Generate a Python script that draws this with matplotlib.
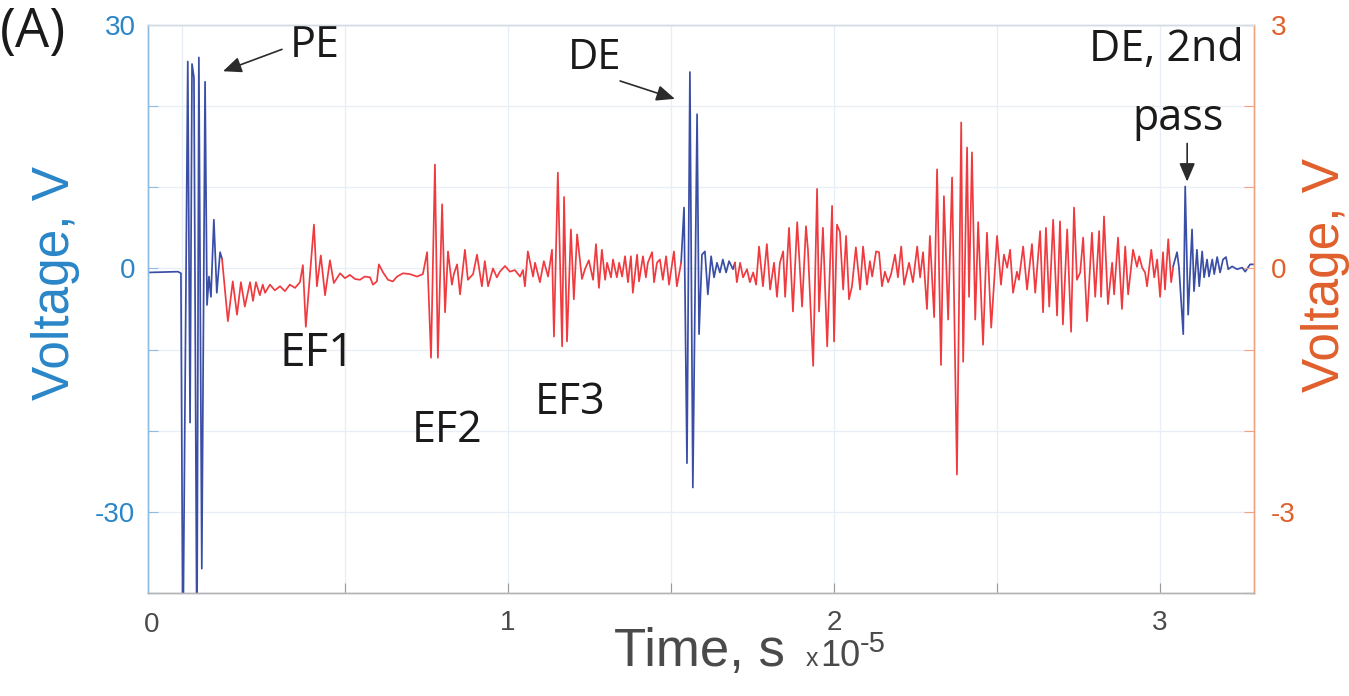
import matplotlib
matplotlib.use("Agg")
import matplotlib.pyplot as plt
import matplotlib.transforms as mtransforms
import numpy as np

W, H, DPI = 1349, 696, 100

# ---------------- data (time in units of 1e-5 s) ----------------
# Blue trace (left axis, V): primary echo PE
pe_t = [-0.104, -0.012, -0.003, 0.003, 0.018, 0.025, 0.031, 0.037, 0.046, 0.052,
        0.061, 0.071, 0.077, 0.083, 0.089, 0.098, 0.107, 0.117, 0.123]
pe_v = [-0.5, -0.4, -0.6, -48, 25.5, -19, 25.2, 23.5, -48, 26.0,
        -37, 23.0, -4.5, -1.0, -3.5, 6.0, -3.0, 2.0, 1.2]

# Red trace (right axis, V): segment between PE and DE
r1_t = [0.123, 0.141, 0.156, 0.169, 0.181, 0.193, 0.209, 0.218, 0.227, 0.239,
        0.248, 0.255, 0.270, 0.285, 0.301, 0.316, 0.331, 0.347, 0.362, 0.371,
        0.380, 0.405, 0.414, 0.426, 0.439, 0.454, 0.466, 0.485, 0.500, 0.515,
        0.531, 0.546, 0.561, 0.577, 0.586, 0.598, 0.604, 0.617, 0.632, 0.647,
        0.660, 0.678, 0.699, 0.721, 0.739, 0.752, 0.764, 0.776, 0.785, 0.798,
        0.807, 0.816, 0.828, 0.834, 0.844, 0.853, 0.868, 0.877, 0.893, 0.905,
        0.920, 0.929, 0.939, 0.954, 0.966, 0.975, 0.991, 1.006, 1.021, 1.037,
        1.046, 1.052, 1.061, 1.077, 1.083, 1.098, 1.110, 1.123, 1.135, 1.141,
        1.153, 1.166, 1.172, 1.181, 1.193, 1.202, 1.212, 1.227, 1.236, 1.248,
        1.261, 1.270, 1.279, 1.288, 1.298, 1.304, 1.316, 1.322, 1.334, 1.341,
        1.350, 1.359, 1.368, 1.377, 1.383, 1.396, 1.402, 1.414, 1.423, 1.429,
        1.442, 1.448, 1.457, 1.466, 1.475, 1.485, 1.494, 1.509, 1.518, 1.531]
r1_v = [0.12, -0.65, -0.16, -0.57, -0.17, -0.47, -0.17, -0.40, -0.17, -0.33,
        -0.20, -0.30, -0.20, -0.27, -0.22, -0.28, -0.20, -0.24, -0.17, 0.04,
        -0.72, 0.54, -0.22, 0.16, -0.33, 0.10, -0.18, -0.06, -0.12, -0.08,
        -0.13, -0.14, -0.10, -0.11, -0.20, -0.16, 0.05, -0.05, -0.14, -0.16,
        -0.10, -0.06, -0.07, -0.10, -0.07, 0.20, -1.10, 1.28, -1.10, 0.79,
        -0.54, 0.21, -0.20, -0.07, 0.05, -0.32, 0.23, -0.14, -0.07, 0.17,
        -0.22, 0.09, -0.22, 0.00, -0.11, -0.04, 0.03, -0.04, -0.02, -0.10,
        -0.02, -0.22, 0.21, -0.10, 0.07, -0.17, 0.09, -0.10, 0.23, -0.84,
        1.18, -0.96, 0.88, -0.90, 0.48, -0.38, 0.42, -0.13, -0.01, 0.10,
        -0.14, 0.30, -0.24, 0.23, -0.14, 0.07, -0.11, 0.11, -0.11, 0.07,
        -0.10, 0.15, -0.17, 0.15, -0.30, 0.17, -0.16, 0.15, -0.11, 0.07,
        0.20, -0.17, 0.07, 0.11, -0.14, 0.15, -0.20, 0.21, -0.22, 0.07]

# Blue trace: direct echo DE
de_t = [1.531, 1.540, 1.549, 1.558, 1.567, 1.580, 1.586, 1.595, 1.604, 1.613,
        1.623, 1.632, 1.641, 1.650, 1.659, 1.669, 1.678, 1.690, 1.696]
de_v = [0.7, 7.5, -24.0, 24.2, -27.0, 19.0, -8.1, 1.7, 2.1, -3.2,
        1.5, -1.1, 0.7, -0.5, 1.1, -0.5, 0.9, -0.1, 0.7]

# Red trace: segment between DE and DE 2nd pass
r2_t = [1.696, 1.702, 1.712, 1.721, 1.733, 1.742, 1.752, 1.761, 1.770, 1.782,
        1.794, 1.804, 1.816, 1.825, 1.834, 1.844, 1.850, 1.862, 1.874, 1.887,
        1.902, 1.914, 1.920, 1.936, 1.948, 1.954, 1.966, 1.979, 1.994, 2.000,
        2.009, 2.018, 2.028, 2.037, 2.046, 2.055, 2.067, 2.080, 2.089, 2.101,
        2.110, 2.117, 2.129, 2.138, 2.147, 2.156, 2.166, 2.175, 2.187, 2.196,
        2.206, 2.215, 2.230, 2.242, 2.255, 2.264, 2.273, 2.285, 2.294, 2.307,
        2.316, 2.328, 2.337, 2.350, 2.362, 2.377, 2.390, 2.396, 2.408, 2.414,
        2.423, 2.433, 2.442, 2.457, 2.469, 2.482, 2.500, 2.512, 2.521, 2.531,
        2.540, 2.549, 2.561, 2.567, 2.580, 2.592, 2.607, 2.617, 2.632, 2.641,
        2.650, 2.660, 2.672, 2.684, 2.693, 2.702, 2.715, 2.727, 2.736, 2.745,
        2.755, 2.764, 2.776, 2.791, 2.801, 2.813, 2.819, 2.828, 2.840, 2.853,
        2.859, 2.871, 2.883, 2.893, 2.902, 2.917, 2.929, 2.936, 2.945, 2.954,
        2.960, 2.973, 2.982, 2.991, 3.000, 3.009, 3.015, 3.025, 3.034, 3.040]
r2_v = [0.07, -0.17, 0.07, -0.11, -0.01, -0.17, -0.05, -0.20, 0.27, -0.22,
        0.30, -0.26, 0.07, -0.35, 0.07, 0.21, -0.35, 0.50, -0.53, 0.57,
        -0.47, 0.52, 0.23, -1.20, 0.98, -0.53, 0.50, -0.96, 0.77, -0.90,
        0.54, 0.45, -0.26, 0.40, -0.38, -0.22, 0.26, -0.26, 0.27, -0.20,
        0.09, -0.10, 0.21, 0.20, -0.22, -0.04, -0.17, -0.07, 0.17, -0.11,
        0.27, -0.20, 0.07, -0.17, 0.27, -0.11, 0.20, -0.50, 0.40, -0.60,
        1.22, -1.19, 0.89, -0.63, 1.12, -2.54, 1.80, -1.15, 1.49, -0.35,
        1.43, -0.63, 0.57, -0.94, 0.44, -0.73, 0.40, -0.20, 0.17, 0.01,
        0.23, -0.30, -0.04, -0.14, 0.27, -0.26, 0.30, -0.30, 0.46, -0.54,
        0.50, -0.47, 0.60, -0.58, 0.58, -0.69, 0.48, -0.78, 0.75, -0.14,
        -0.05, 0.38, -0.65, 0.44, -0.35, 0.46, -0.35, 0.64, -0.44, 0.07,
        -0.32, 0.38, -0.50, 0.27, -0.32, 0.23, 0.02, 0.15, 0.01, -0.05,
        -0.22, 0.23, -0.11, 0.11, -0.35, 0.20, -0.26, 0.36, -0.17, 0.01]

# Blue trace: DE, 2nd pass
b3_t = [3.040, 3.052, 3.058, 3.071, 3.077, 3.086, 3.098, 3.104, 3.113, 3.120,
        3.129, 3.135, 3.144, 3.150, 3.160, 3.166, 3.175, 3.184, 3.193, 3.202,
        3.209, 3.221, 3.236, 3.252, 3.261, 3.276, 3.285]
b3_v = [0.25, 2.0, 0.1, -8.1, 10.1, -5.7, 4.8, -2.8, 2.3, -2.2,
        2.1, -1.1, 1.1, -1.0, 1.1, -0.7, 1.4, -0.5, 1.1, 1.4,
        -0.1, 0.25, -0.1, 0.1, -0.4, 0.5, 0.5]

x_ticks = [0, 0.5, 1, 1.5, 2, 2.5, 3]
x_ticklabels = ["", "", "1", "", "2", "", "3"]
left_ticks = [-40, -30, -20, -10, 0, 10, 20, 30]
left_ticklabels = ["", "-30", "", "", "0", "", "", "30"]
right_ticks = [-4, -3, -2, -1, 0, 1, 2, 3]
right_ticklabels = ["", "-3", "", "", "0", "", "", "3"]

# ---------------- style ----------------
BLUE_LINE = "#3a4ea6"
RED_LINE = "#ef3b3f"
BLUE_TXT = "#2a86c8"
ORANGE_TXT = "#e0602c"
GRAY_TXT = "#4a4a4a"
SANS = ["Liberation Sans", "DejaVu Sans"]
HUM = ["Open Sans", "DejaVu Sans"]

fig = plt.figure(figsize=(W / DPI, H / DPI), dpi=DPI)
ax = fig.add_axes([148 / W, 1 - 593 / H, (1254 - 148) / W, (593 - 25) / H])
ax2 = ax.twinx()

ax.set_xlim(-0.104, 3.288)
ax.set_ylim(-40, 30)
ax2.set_ylim(-4, 3)

ax2.plot(r1_t, r1_v, color=RED_LINE, lw=1.25, solid_joinstyle="round")
ax2.plot(r2_t, r2_v, color=RED_LINE, lw=1.25, solid_joinstyle="round")
ax.plot(pe_t, pe_v, color=BLUE_LINE, lw=1.25)
ax.plot(de_t, de_v, color=BLUE_LINE, lw=1.25)
ax.plot(b3_t, b3_v, color=BLUE_LINE, lw=1.25)

# ticks
ax.set_xticks(x_ticks)
ax.set_xticklabels(x_ticklabels)
ax.set_yticks(left_ticks)
ax.set_yticklabels(left_ticklabels)
ax2.set_yticks(right_ticks)
ax2.set_yticklabels(right_ticklabels)

ax.tick_params(axis="x", direction="in", length=7, width=0.8, color="#9a9a9a",
               pad=12, labelsize=20, labelcolor=GRAY_TXT, top=False)
ax.tick_params(axis="y", direction="in", length=7, width=0.8, color="#8fbbe3",
               pad=9, labelsize=20, labelcolor=BLUE_TXT)
ax2.tick_params(axis="y", direction="in", length=7, width=0.8, color="#f2a27e",
                pad=12, labelsize=20, labelcolor=ORANGE_TXT)
for lab in ax.get_xticklabels() + ax.get_yticklabels() + ax2.get_yticklabels():
    lab.set_fontfamily(SANS)

ax.grid(True, color="#e8eef5", lw=0.9)
ax.set_axisbelow(True)

for a in (ax, ax2):
    a.spines["left"].set_color("#8fbbe3")
    a.spines["right"].set_color("#f2a27e")
    a.spines["bottom"].set_color("#b4b4b4")
    a.spines["top"].set_color("#d3dbe4")
    for s in a.spines.values():
        s.set_linewidth(1.0)

# "0" x tick label (drawn slightly left of its tick as in the reference)
trans = mtransforms.blended_transform_factory(ax.transData, ax.transAxes)
ax.text(-0.092, -0.034, "0", transform=trans, ha="center", va="top",
        fontsize=20, color=GRAY_TXT, family=SANS)

# axis labels
fig.text(55 / W, 1 - 283 / H, "Voltage, V", rotation=90, ha="center", va="center",
         rotation_mode="anchor", fontsize=37, color=BLUE_TXT, family=SANS)
fig.text(1325 / W, 1 - 275 / H, "Voltage, V", rotation=90, ha="center", va="center",
         rotation_mode="anchor", fontsize=37, color=ORANGE_TXT, family=SANS)
fig.text(614 / W, 1 - 666 / H, "Time, s", ha="left", va="baseline",
         fontsize=38, color=GRAY_TXT, family=SANS)
fig.text(806 / W, 1 - 666 / H, "x", ha="left", va="baseline",
         fontsize=18, color=GRAY_TXT, family=SANS)
fig.text(820 / W, 1 - 666 / H, "10", ha="left", va="baseline",
         fontsize=26, color=GRAY_TXT, family=SANS)
fig.text(860 / W, 1 - 652 / H, "-5", ha="left", va="baseline",
         fontsize=21, color=GRAY_TXT, family=SANS)

# panel tag
fig.text(0 / W, 1 - 33 / H, "(A)", ha="left", va="center", fontsize=39,
         color="#1a1a1a", family=HUM)

# annotations (left-axis data coordinates)
akw = dict(arrowstyle="-|>,head_length=0.7,head_width=0.3", color="#2b2b2b",
           lw=1.2, shrinkA=0, shrinkB=0, mutation_scale=16)
ax.annotate("", xy=(0.126, 24.3), xytext=(0.307, 27.0), arrowprops=akw)
ax.text(0.408, 27.5, "PE", ha="center", va="center", fontsize=31,
        color="#1a1a1a", family=HUM)
ax.annotate("", xy=(1.512, 20.9), xytext=(1.344, 23.1), arrowprops=akw)
ax.text(1.267, 25.9, "DE", ha="center", va="center", fontsize=30,
        color="#1a1a1a", family=HUM)
ax.annotate("", xy=(3.083, 10.7), xytext=(3.083, 15.4), arrowprops=akw)
ax.text(3.020, 26.9, "DE, 2nd", ha="center", va="center", fontsize=31,
        color="#1a1a1a", family=HUM)
ax.text(3.055, 18.5, "pass", ha="center", va="center", fontsize=31,
        color="#1a1a1a", family=HUM)

ax.text(0.415, -10.5, "EF1", ha="center", va="center", fontsize=33,
        color="#1a1a1a", family=HUM)
ax.text(0.813, -20.0, "EF2", ha="center", va="center", fontsize=31,
        color="#1a1a1a", family=HUM)
ax.text(1.190, -16.6, "EF3", ha="center", va="center", fontsize=31,
        color="#1a1a1a", family=HUM)

fig.savefig("out.png", dpi=DPI, facecolor="white")
